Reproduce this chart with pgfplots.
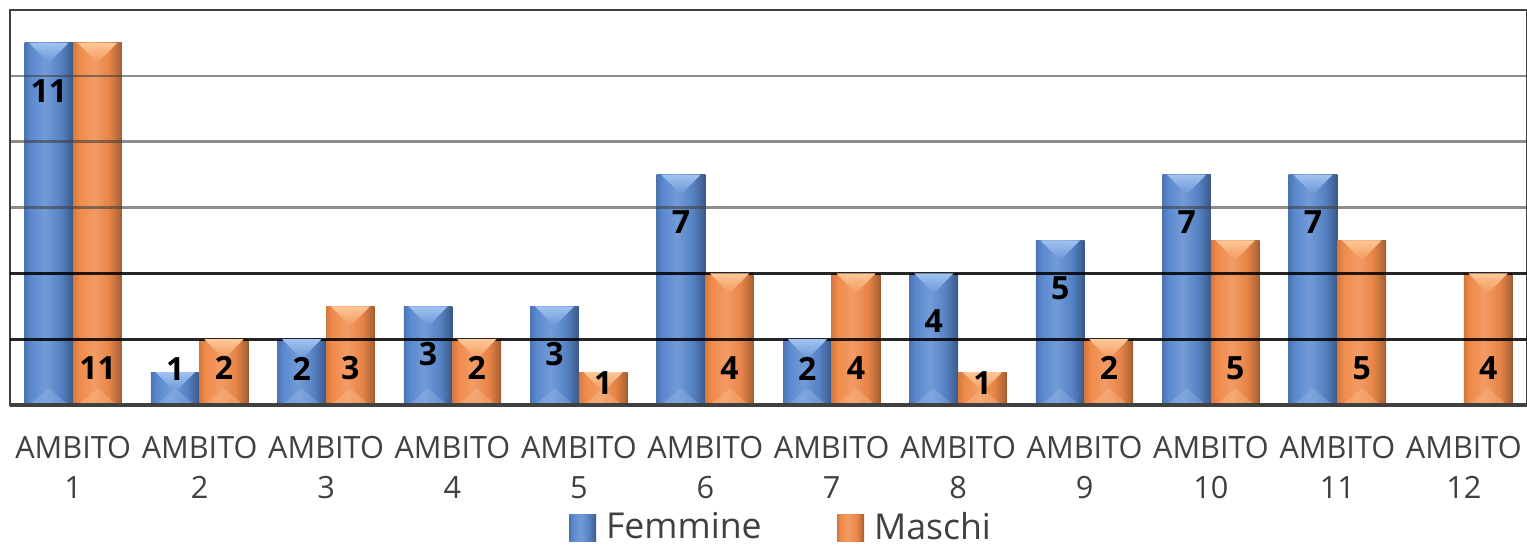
\documentclass[border=0pt]{standalone}
\usepackage{fontspec}
\setmainfont{Open Sans}
\usepackage{pgfplots}
\pgfplotsset{compat=1.18}
\usepackage{pgfplotstable}

\definecolor{fblue}{HTML}{5A89CF}
\definecolor{fblueL}{HTML}{A2C3F0}
\definecolor{morange}{HTML}{F08A4A}
\definecolor{morangeL}{HTML}{FDC898}
\definecolor{axisgray}{HTML}{404040}

% horizontal shadings for one bar (the bar spans 25bp..75bp)
\pgfdeclarehorizontalshading{fbar}{100bp}{color(0bp)=(fblue!75!black); color(25bp)=(fblue!85!black); color(31bp)=(fblue); color(46bp)=(fblue!85!white); color(62bp)=(fblue!95!black); color(72bp)=(fblue!72!black); color(75bp)=(fblue!62!black); color(100bp)=(fblue!62!black)}
\pgfdeclarehorizontalshading{mbar}{100bp}{color(0bp)=(morange!80!black); color(25bp)=(morange!88!black); color(31bp)=(morange); color(46bp)=(morange!85!white); color(62bp)=(morange!96!black); color(72bp)=(morange!75!black); color(75bp)=(morange!65!black); color(100bp)=(morange!65!black)}

% x: ambito, f: femmine, m: maschi
\pgfplotstableread{
x f m
1 11 11
2 1 2
3 2 3
4 3 2
5 3 1
6 7 4
7 2 4
8 4 1
9 5 2
10 7 5
11 7 5
12 0 4
}\ambiti

% bevel facets on top and bottom of each bar
\pgfdeclareplotmark{topF}{\path[draw=none, top color=fblueL, bottom color=fblue!80!fblueL] (-5.9pt,0pt) -- (5.9pt,0pt) -- (0pt,-6pt) -- cycle;}
\pgfdeclareplotmark{topM}{\path[draw=none, top color=morangeL, bottom color=morange!80!morangeL] (-5.9pt,0pt) -- (5.9pt,0pt) -- (0pt,-6pt) -- cycle;}
\pgfdeclareplotmark{baseF}{\path[draw=none, fill=fblueL, fill opacity=0.3] (-5.9pt,0pt) -- (5.9pt,0pt) -- (0pt,5pt) -- cycle;}
\pgfdeclareplotmark{baseM}{\path[draw=none, fill=morangeL, fill opacity=0.3] (-5.9pt,0pt) -- (5.9pt,0pt) -- (0pt,5pt) -- cycle;}

\begin{document}
\begin{tikzpicture}
\path[use as bounding box] (-3pt,-42.3pt) rectangle (455.1pt,121.5pt);
\begin{axis}[
  at={(0,0)}, anchor=south west,
  scale only axis,
  width=455.1pt, height=118.5pt,
  xmin=0.5, xmax=12.5,
  ymin=0, ymax=12,
  axis on top,
  axis line style={draw=axisgray, line width=0.6pt},
  xtick={1,...,12},
  xticklabels={{AMBITO\\1},{AMBITO\\2},{AMBITO\\3},{AMBITO\\4},{AMBITO\\5},{AMBITO\\6},{AMBITO\\7},{AMBITO\\8},{AMBITO\\9},{AMBITO\\10},{AMBITO\\11},{AMBITO\\12}},
  xticklabel style={align=center, font=\fontsize{9.2}{12}\selectfont, text=axisgray, anchor=north, inner sep=0pt, yshift=-9.3pt},
  ytick={6,8,10}, yticklabels={},
  extra y ticks={2,4}, extra y tick labels={},
  extra y tick style={major grid style={black, opacity=0.85, line width=0.9pt}},
  ymajorgrids,
  major grid style={axisgray, opacity=0.6, line width=0.75pt},
  major tick length=0pt,
  legend style={at={(0.511,-0.312)}, anchor=center, draw=none, fill=none,
    legend columns=2, font=\fontsize{10.7}{12}\selectfont, text=axisgray,
    nodes={inner xsep=3pt, inner ysep=0pt},
    /tikz/every even column/.append style={column sep=19.7pt}},
  after end axis/.code={\draw[axisgray, line width=1.4pt] (rel axis cs:0,0) -- (rel axis cs:1,0);},
]
% one plot per bar, so that every bar carries its own shading
\pgfplotsinvokeforeach{1,...,11}{
  \addplot[forget plot, ybar, bar width=0.385, bar shift=-0.1925, draw=none,
    shade, shading=fbar, restrict x to domain=#1:#1]
    table[x=x, y=f]{\ambiti};
}
\pgfplotsinvokeforeach{1,...,12}{
  \addplot[forget plot, ybar, bar width=0.385, bar shift=0.1925, draw=none,
    shade, shading=mbar, restrict x to domain=#1:#1]
    table[x=x, y=m]{\ambiti};
}
\addlegendimage{legend image code/.code={\path[draw=none, shade, shading=fbar] (0pt,-4pt) rectangle (8pt,4pt);}}
\addlegendentry{Femmine}
\addlegendimage{legend image code/.code={\path[draw=none, shade, shading=mbar] (0pt,-4pt) rectangle (8pt,4pt);}}
\addlegendentry{Maschi}

% bevels
\addplot[forget plot, only marks, draw=none, mark=topF, skip coords between index={11}{12}]
  table[x expr=\thisrow{x}-0.1925, y=f]{\ambiti};
\addplot[forget plot, only marks, draw=none, mark=topM]
  table[x expr=\thisrow{x}+0.1925, y=m]{\ambiti};
\addplot[forget plot, only marks, draw=none, mark=baseF, skip coords between index={11}{12}]
  table[x expr=\thisrow{x}-0.1925, y expr=0]{\ambiti};
\addplot[forget plot, only marks, draw=none, mark=baseM]
  table[x expr=\thisrow{x}+0.1925, y expr=0]{\ambiti};

% value labels
\addplot[forget plot, draw=none, mark=none, nodes near coords, point meta=explicit symbolic,
  every node near coord/.append style={anchor=center, inner sep=0pt, text=black, font=\fontsize{9.6}{10}\selectfont\bfseries},
  skip coords between index={11}{12}]
  table[x expr=\thisrow{x}-0.1925, y expr={max(\thisrow{f}-1.45,1.1)}, meta=f]{\ambiti};
\addplot[forget plot, draw=none, mark=none, nodes near coords, point meta=explicit symbolic,
  every node near coord/.append style={anchor=center, inner sep=0pt, text=black, font=\fontsize{9.6}{10}\selectfont\bfseries}]
  table[x expr=\thisrow{x}+0.1925, y expr={min(1.12,\thisrow{m}-0.33)}, meta=m]{\ambiti};
\end{axis}
\end{tikzpicture}
\end{document}
